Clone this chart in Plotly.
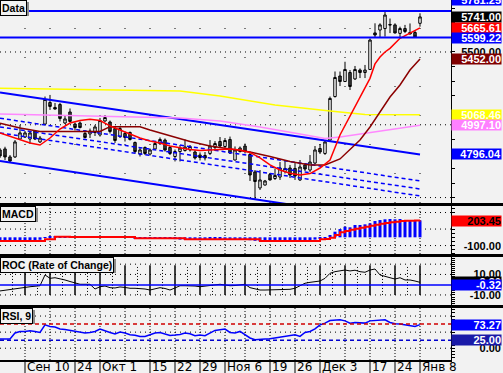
import plotly.graph_objects as go
import pandas as pd

# ---------------- data ----------------
dates = [d.strftime('%Y-%m-%d') for d in pd.bdate_range('2007-09-03', '2007-12-28')
         if d.strftime('%Y-%m-%d') != '2007-11-05'] + ['2008-01-08']

opens = [4827, 4834, 4779, 4779, 4902, 4916, 4902, 4957, 4882, 5005,
         5153, 5119, 5139, 5012, 5088, 5005, 5012, 4940, 4937, 4947,
         4930, 5026, 5019, 4974, 4919, 4940, 4947, 4878, 4799, 4844,
         4799, 4834, 4871, 4895, 4844, 4782, 4816, 4823, 4827, 4813,
         4792, 4789, 4803, 4844, 4885, 4851, 4899, 4758, 4816, 4854,
         4796, 4676, 4566, 4586, 4658, 4631, 4641, 4679, 4703, 4700,
         4621, 4724, 4689, 4737, 4837, 4803, 4895, 5194, 5335, 5297,
         5359, 5315, 5376, 5359, 5380, 5631, 5651, 5661, 5689, 5686,
         5628, 5661, 5634, 5634, 5697]
closes = [4786, 4779, 4751, 4882, 4944, 4944, 4944, 4902, 4909, 5174,
          5126, 5108, 5043, 5040, 5023, 4981, 4981, 4913, 4957, 4985,
          5029, 5050, 4954, 4892, 4974, 4913, 4899, 4816, 4827, 4803,
          4827, 4871, 4899, 4827, 4803, 4816, 4840, 4847, 4851, 4772,
          4775, 4772, 4854, 4871, 4854, 4892, 4806, 4827, 4840, 4816,
          4655, 4610, 4621, 4614, 4621, 4652, 4703, 4700, 4655, 4648,
          4710, 4696, 4744, 4827, 4813, 4882, 5181, 5325, 5297, 5380,
          5263, 5380, 5359, 5376, 5582, 5617, 5686, 5754, 5686, 5631,
          5661, 5641, 5624, 5603, 5741]
highs = [4840, 4849, 4792, 4895, 4999, 4957, 4957, 4964, 4923, 5194,
         5205, 5150, 5150, 5067, 5112, 5016, 5023, 4964, 4974, 4999,
         5047, 5067, 5029, 4985, 4992, 4954, 4954, 4885, 4847, 4851,
         4837, 4885, 4913, 4906, 4854, 4830, 4861, 4899, 4861, 4827,
         4810, 4813, 4895, 4888, 4916, 4909, 4919, 4851, 4851, 4871,
         4816, 4689, 4689, 4621, 4669, 4700, 4744, 4758, 4724, 4737,
         4758, 4737, 4792, 4854, 4868, 4889, 5194, 5366, 5366, 5433,
         5376, 5404, 5387, 5411, 5593, 5697, 5697, 5781, 5730, 5697,
         5674, 5686, 5696, 5651, 5766]
lows = [4772, 4758, 4744, 4772, 4895, 4909, 4868, 4895, 4875, 4999,
        5102, 5105, 5023, 5005, 5016, 4961, 4975, 4906, 4909, 4923,
        4919, 5021, 4940, 4875, 4909, 4885, 4892, 4803, 4782, 4792,
        4789, 4827, 4861, 4816, 4792, 4748, 4748, 4816, 4816, 4761,
        4755, 4755, 4792, 4820, 4847, 4840, 4799, 4755, 4810, 4803,
        4614, 4490, 4552, 4583, 4617, 4621, 4621, 4665, 4634, 4621,
        4614, 4682, 4676, 4731, 4799, 4793, 4889, 5187, 5266, 5294,
        5239, 5308, 5321, 5321, 5376, 5603, 5596, 5606, 5630, 5627,
        5603, 5630, 5620, 5599, 5674]

fast_ma_dates = ["2007-09-03", "2007-09-07", "2007-09-11", "2007-09-13", "2007-09-17", "2007-09-19",
                 "2007-09-21", "2007-09-25", "2007-09-27", "2007-10-01", "2007-10-03", "2007-10-05",
                 "2007-10-09", "2007-10-11", "2007-10-15", "2007-10-17", "2007-10-19", "2007-10-23",
                 "2007-10-25", "2007-10-29", "2007-10-31", "2007-11-02", "2007-11-07", "2007-11-09",
                 "2007-11-13", "2007-11-15", "2007-11-19", "2007-11-21", "2007-11-23", "2007-11-27",
                 "2007-11-29", "2007-12-03", "2007-12-05", "2007-12-07", "2007-12-11", "2007-12-13",
                 "2007-12-14", "2007-12-17", "2007-12-18", "2007-12-19", "2007-12-20", "2007-12-21",
                 "2007-12-25", "2007-12-27", "2008-01-08"]
fast_ma = [4944, 4895, 4875, 4861, 4909, 4971, 5012, 5029, 5038, 5029, 4992, 4964,
           4937, 4909, 4889, 4875, 4854, 4840, 4830, 4823, 4827, 4830, 4834, 4827,
           4810, 4772, 4724, 4689, 4667, 4655, 4665, 4703, 4758, 4930, 5060, 5191,
           5253, 5319, 5418, 5466, 5500, 5525, 5594, 5628, 5665.61]

slow_ma_dates = ["2007-09-03", "2007-09-07", "2007-09-13", "2007-10-01", "2007-10-03", "2007-10-11",
                 "2007-10-15", "2007-10-19", "2007-10-25", "2007-10-31", "2007-11-07", "2007-11-13",
                 "2007-11-19", "2007-11-23", "2007-11-29", "2007-12-04", "2007-12-07", "2007-12-11",
                 "2007-12-13", "2007-12-17", "2007-12-19", "2007-12-21", "2007-12-25", "2007-12-27",
                 "2008-01-08"]
slow_ma = [5010, 4978, 4954, 4954, 4987, 4987, 4964, 4923, 4885, 4854, 4834, 4813,
           4782, 4748, 4724, 4724, 4765, 4827, 4895, 4985, 5088, 5191, 5273, 5376, 5452.00]

yellow_dates = ["2007-09-03", "2007-10-15", "2007-10-23", "2007-11-02", "2007-11-20",
                "2007-12-05", "2007-12-14", "2008-01-08"]
yellow_ma = [5251, 5239, 5232, 5198, 5136, 5095, 5071, 5068.46]

pink_dates = ["2007-09-03", "2007-10-01", "2007-10-23", "2007-11-02", "2007-11-15", "2007-11-27",
              "2007-12-04", "2007-12-07", "2007-12-13", "2007-12-19", "2007-12-25", "2008-01-08"]
pink_ma = [5074, 5057, 5047, 5026, 4985, 4937, 4906, 4916, 4937, 4957, 4978, 4997.10]

chan_dates = ["2007-09-03", "2008-01-08"]
chan_upper = [5222, 4796.04]
chan_lower = [4751, 4318]
fan_1 = [5045, 4614]
fan_2 = [4985, 4559]
fan_3 = [4944, 4511]
level_high = 5781.25
level_low = 5599.22

macd_hist = [-40, -45, -50, -48, -45, -42, -40, -38, -30, -5,
             12, 15, 12, 8, 5, 1, 1, 0, 0, 0,
             1, 2, 1, -1, 0, -1, -2, -10, -15, -18,
             -18, -15, -12, -15, -18, -22, -28, -28, -28, -32,
             -34, -30, -20, -15, -12, -25, -30, -32, -30, -30,
             -35, -42, -48, -50, -48, -45, -42, -40, -40, -42,
             -40, -38, -35, -28, -20, -5, 28, 68, 100, 128,
             121, 149, 149, 157, 169, 197, 209, 218, 222, 218,
             222, 209, 205, 201, 205]
macd_signal = [-45, -45, -45, -45, -45, -45, -45, -45, -45, -24,
               -24, 7, 7, 7, 4, 4, 4, 4, 4, 4,
               4, 4, 4, 4, 4, 4, 4, -12, -12, -12,
               -12, -12, -12, -12, -12, -12, -12, -24, -24, -24,
               -24, -24, -24, -24, -24, -24, -24, -24, -24, -24,
               -24, -24, -45, -45, -45, -45, -45, -45, -45, -45,
               -45, -45, -45, -45, -24, -20, -5, 28, 60, 76,
               92, 104, 116, 128, 140, 152, 165, 173, 181, 189,
               197, 200, 201, 202, 203.45]

roc = [-6.1, -5.3, -4.5, -3.7, -2.9, -2.4, -2.0, -1.5, -1.0, 9.5,
       6.2, 6.8, 6.0, 4.6, 3.1, 1.4, 0.4, 0.4, 0.4, -4.2,
       -2.0, -1.3, -2.9, -3.2, -2.2, -2.7, -3.5, -3.5, -3.5, -4.2,
       -5.2, -4.2, -2.9, -3.7, -5.2, -3.2, -1.0, -1.0, -1.0, -1.3,
       -2.0, -1.3, -1.0, -0.3, 0.4, -0.3, -1.0, -0.8, -0.3, 0.4,
       -2.9, -4.2, -5.2, -5.2, -5.2, -4.9, -4.5, -4.5, -4.5, -3.5,
       -1.0, 1.4, 2.3, 2.9, 3.6, 6.2, 11.1, 12.7, 13.4, 14.3,
       13.4, 14.1, 12.7, 12.1, 14.3, 15.3, 9.5, 7.8, 6.8, 5.5,
       6.8, 4.6, 4.6, 3.6, 2.3]
roc_level = -0.32

rsi = [28.8, 28.8, 28.8, 47.3, 52.2, 52.2, 54.4, 52.2, 49.1, 72.8,
       67.6, 65.8, 59.6, 58.5, 55.3, 52.2, 50.4, 47.3, 49.1, 52.2,
       59.6, 55.3, 49.1, 44.2, 50.4, 47.3, 42.0, 40.5, 36.8, 36.8,
       42.0, 47.3, 49.1, 45.1, 39.9, 41.1, 43.0, 47.3, 45.1, 39.0,
       41.1, 39.0, 47.3, 55.3, 57.4, 59.6, 49.1, 47.3, 52.2, 42.0,
       31.9, 26.6, 26.6, 28.8, 29.8, 31.9, 34.1, 36.8, 38.9, 42.0,
       36.8, 49.1, 52.2, 59.9, 72.8, 78.0, 86.0, 88.2, 88.2, 85.0,
       78.0, 79.9, 79.9, 78.0, 85.0, 86.0, 88.2, 88.2, 79.9, 76.0,
       75.0, 72.8, 69.6, 67.6, 73.27]
rsi_upper = 75
rsi_lower = 25

tick_dates = ["2007-09-10", "2007-09-24", "2007-10-01", "2007-10-15", "2007-10-22", "2007-10-29",
              "2007-11-06", "2007-11-19", "2007-11-26", "2007-12-03", "2007-12-17", "2007-12-24",
              "2008-01-08"]
tick_text = ["Сен 10", "24", "Окт 1", "15", "22", "29", "Ноя 6", "19", "26", "Дек 3", "17", "24", "Янв 8"]

panel_titles = ["Data", "MACD", "ROC (Rate of Change)", "RSI, 9"]

# ---------------- layout geometry ----------------
W, H = 503, 373
ML, MR, MT, MB = 0, 52, 0, 13
PW, PH = W - ML - MR, H - MT - MB


def py(px):  # pixel row (from top of plot area) -> paper fraction
    return 1 - px / PH


def pxx(px):  # pixel column -> paper fraction
    return px / PW


panel_tops = [0, 206, 257, 308]
dom_main = [py(203), 1]
dom_macd = [py(254), py(206)]
dom_roc = [py(305), py(257)]
dom_rsi = [0, py(308)]

BLUE = '#0000ff'
FONT = 'Liberation Sans'

fig = go.Figure()

# price overlays
for vals in (chan_upper, chan_lower):
    fig.add_trace(go.Scatter(x=chan_dates, y=vals, mode='lines',
                             line=dict(color=BLUE, width=2), xaxis='x', yaxis='y'))
for vals in (fan_1, fan_2, fan_3):
    fig.add_trace(go.Scatter(x=chan_dates, y=vals, mode='lines',
                             line=dict(color=BLUE, width=1.5, dash='4px,3px'), xaxis='x', yaxis='y'))
fig.add_trace(go.Scatter(x=yellow_dates, y=yellow_ma, mode='lines',
                         line=dict(color='#ffff00', width=1.5), xaxis='x', yaxis='y'))
fig.add_trace(go.Scatter(x=pink_dates, y=pink_ma, mode='lines',
                         line=dict(color='#ff88ff', width=1.5), xaxis='x', yaxis='y'))

fig.add_trace(go.Candlestick(x=dates, open=opens, high=highs, low=lows, close=closes,
                             increasing=dict(line=dict(color='black', width=1), fillcolor='white'),
                             decreasing=dict(line=dict(color='black', width=1), fillcolor='#404040'),
                             whiskerwidth=0, xaxis='x', yaxis='y'))

fig.add_trace(go.Scatter(x=slow_ma_dates, y=slow_ma, mode='lines',
                         line=dict(color='#8b0000', width=1.5), xaxis='x', yaxis='y'))
fig.add_trace(go.Scatter(x=fast_ma_dates, y=fast_ma, mode='lines',
                         line=dict(color='#ff0000', width=1.5), xaxis='x', yaxis='y'))

# MACD
fig.add_trace(go.Bar(x=dates, y=macd_hist, marker=dict(color=BLUE, line=dict(width=0)),
                     width=0.6, xaxis='x', yaxis='y2'))
fig.add_trace(go.Scatter(x=dates, y=macd_signal, mode='lines', line_shape='hv',
                         line=dict(color='#ff0000', width=2), xaxis='x', yaxis='y2'))

# ROC
fig.add_trace(go.Scatter(x=dates, y=roc, mode='lines',
                         line=dict(color='black', width=1), xaxis='x', yaxis='y3'))

# RSI
fig.add_trace(go.Scatter(x=dates, y=rsi, mode='lines',
                         line=dict(color=BLUE, width=1.5), xaxis='x', yaxis='y4'))

# ---------------- shapes (grid, levels, separators) ----------------
shapes = []
idx = {d: i for i, d in enumerate(dates)}
dts = pd.to_datetime(dates)
week_starts = [i for i in range(1, len(dates)) if dts[i].isocalendar()[1] != dts[i - 1].isocalendar()[1]]


def vline(x, yref, dash, width=1, y0=0, y1=1, color='black'):
    return dict(type='line', xref='x', x0=x, x1=x, yref=yref, y0=y0, y1=y1,
                line=dict(color=color, width=width, dash=dash), layer='below')


def hline(y, yref, dash, color='black', width=1, layer='below'):
    return dict(type='line', xref='paper', x0=0, x1=1, yref=yref, y0=y, y1=y,
                line=dict(color=color, width=width, dash=dash), layer=layer)


for i in week_starts:
    shapes.append(vline(i, 'y domain', '1px,28px'))
    shapes.append(vline(i, 'y2 domain', '1px,2px'))
    shapes.append(vline(i, 'y3', 'solid', 1.5, -10, 19))
    shapes.append(vline(i, 'y4 domain', '1px,2px'))
    shapes.append(vline(i - 2.5, 'y3', '1px,2px', 1, -10, 19))
for v in (4500, 5000, 5500):
    shapes.append(hline(v, 'y', '1px,4px'))
for v in (300, 100, -100):
    shapes.append(hline(v, 'y2', '1px,4px'))
for v in (20, 10, -10):
    shapes.append(hline(v, 'y3', '1px,4px'))
for v in (100, 50, 0):
    shapes.append(hline(v, 'y4', '1px,4px'))

shapes.append(hline(level_high, 'y', 'solid', BLUE, 2, 'above'))
shapes.append(hline(level_low, 'y', 'solid', BLUE, 2, 'above'))
shapes.append(hline(roc_level, 'y3', 'solid', BLUE, 1.5, 'above'))
shapes.append(hline(rsi_upper, 'y4', '4px,3px', '#d00000', 1.5, 'above'))
shapes.append(hline(rsi_lower, 'y4', '4px,3px', '#0000cc', 1.5, 'above'))

# panel separators
for rowpx in (204.5, 255.5, 306.5):
    shapes.append(dict(type='line', xref='paper', x0=0, x1=W / PW, yref='paper',
                       y0=py(rowpx), y1=py(rowpx), line=dict(color='black', width=3), layer='above'))
# x-axis label separators
for d in tick_dates:
    shapes.append(dict(type='line', xref='x', x0=idx[d], x1=idx[d], yref='paper',
                       y0=-MB / PH, y1=0, line=dict(color='black', width=1), layer='above'))

# gray drop shadows behind the panel title boxes
title_widths = [27, 36, 114, 33]
for top, wdt in zip(panel_tops, title_widths):
    shapes.append(dict(type='rect', xref='paper', yref='paper',
                       x0=pxx(2), x1=pxx(wdt + 2), y0=py(top + 16), y1=py(top + 2),
                       fillcolor='#8c8c8c', line=dict(width=0), layer='above'))

# ---------------- annotations ----------------
ann = []
box_cx = 1 + (476 - PW) / PW


def value_label(v, yref, bg, fg, yshift=0):
    a = dict(x=box_cx, xref='paper', y=v, yref=yref, xanchor='center', yanchor='middle',
             text='<b>%.2f</b>' % v, showarrow=False, width=49, height=10, align='right',
             font=dict(family=FONT, size=11, color=fg), borderpad=0, yshift=yshift)
    if bg:
        a['bgcolor'] = bg
    return a


ann.append(value_label(5500.00, 'y', None, 'black'))
ann.append(value_label(level_high, 'y', BLUE, 'white', 11))
ann.append(value_label(closes[-1], 'y', '#000000', 'white'))
ann.append(value_label(fast_ma[-1], 'y', '#ff0000', 'white'))
ann.append(value_label(level_low, 'y', BLUE, 'white'))
ann.append(value_label(slow_ma[-1], 'y', '#800000', 'white'))
ann.append(value_label(yellow_ma[-1], 'y', '#ffff00', '#fffff0'))
ann.append(value_label(pink_ma[-1], 'y', '#ff80ff', 'white'))
ann.append(value_label(chan_upper[-1], 'y', BLUE, 'white'))

ann.append(value_label(-100.00, 'y2', None, 'black'))
ann.append(value_label(macd_signal[-1], 'y2', '#ff0000', 'black'))

ann.append(value_label(10.00, 'y3', None, 'black'))
ann.append(value_label(-10.00, 'y3', None, 'black'))
ann.append(value_label(roc[-1], 'y3', '#000000', 'white'))
ann.append(value_label(roc_level, 'y3', BLUE, 'white'))

ann.append(value_label(0.00, 'y4', None, 'black'))
ann.append(value_label(rsi_lower, 'y4', '#1a1aa8', 'white'))
ann.append(value_label(rsi[-1], 'y4', BLUE, 'white'))

for text, top in zip(panel_titles, panel_tops):
    ann.append(dict(x=0, xref='paper', y=py(top), yref='paper', xanchor='left', yanchor='top',
                    showarrow=False, borderpad=1, text='<b>%s</b>' % text,
                    font=dict(family=FONT, size=10.5, color='black'),
                    bgcolor='#f2f2f2', bordercolor='black', borderwidth=1))

# x-axis date labels, left-aligned just right of each separator
for d, t in zip(tick_dates, tick_text):
    ann.append(dict(x=idx[d], xref='x', y=-6.5 / PH, yref='paper', xanchor='left', yanchor='middle',
                    xshift=1, text=t, showarrow=False, borderpad=0,
                    font=dict(family='DejaVu Sans', size=12, color='black')))


def yax(dom, rng, dtick):
    return dict(domain=dom, range=rng, side='right', anchor='x', showgrid=False, zeroline=False,
                showline=True, linecolor='black', linewidth=1, mirror=True,
                ticks='outside', ticklen=3, tickcolor='black', dtick=dtick,
                showticklabels=False, automargin=False, fixedrange=True)


fig.update_layout(
    width=W, height=H, margin=dict(l=ML, r=MR, t=MT, b=MB, pad=0),
    paper_bgcolor='#f2f2f2', plot_bgcolor='#f2f2f2', showlegend=False,
    xaxis=dict(type='category', categoryorder='array', categoryarray=dates,
               range=[0, 90.2], anchor='y4', showgrid=False, zeroline=False,
               showline=True, linecolor='black', linewidth=2,
               tickmode='array', tickvals=tick_dates, ticktext=tick_text, ticks='',
               showticklabels=False,
               rangeslider=dict(visible=False), automargin=False, fixedrange=True),
    yaxis=yax(dom_main, [4462.6, 5857.2], 100),
    yaxis2=yax(dom_macd, [-202, 379], 50),
    yaxis3=yax(dom_roc, [-19.8, 27], 2),
    yaxis4=yax(dom_rsi, [-36.6, 125], 10),
    shapes=shapes, annotations=ann,
)

fig.write_html('out.html', config={'displayModeBar': False},
               post_script="document.body.style.margin='0px';document.body.style.overflow='hidden';")
